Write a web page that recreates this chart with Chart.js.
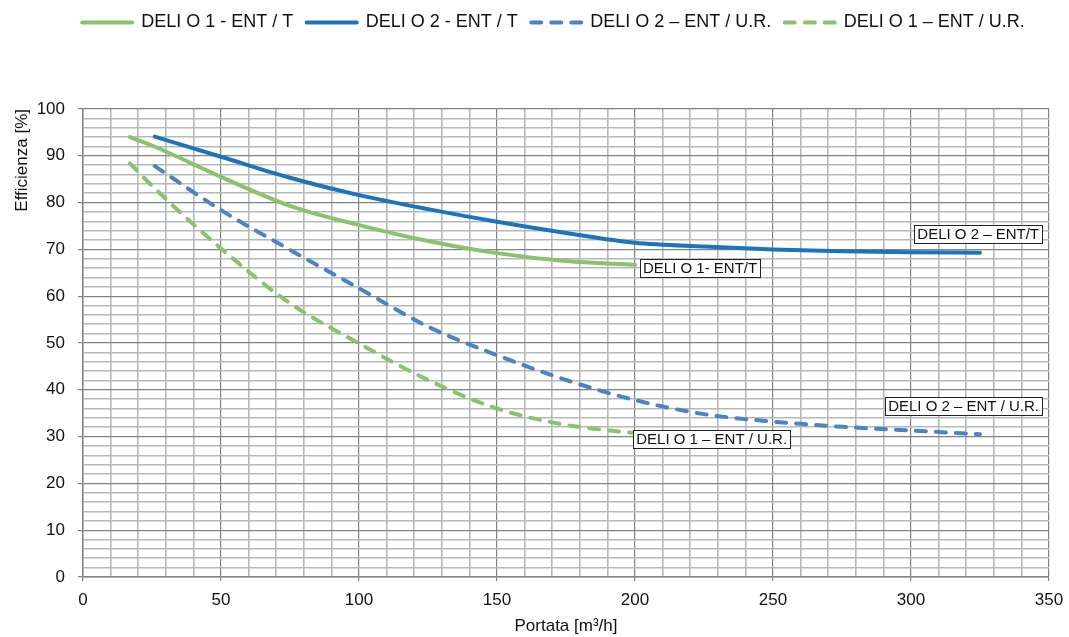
<!DOCTYPE html>
<html>
<head>
<meta charset="utf-8">
<script src="https://cdn.jsdelivr.net/npm/chart.js@4/dist/chart.umd.min.js"></script>
<style>
  html, body { margin: 0; padding: 0; background: #fff; }
  #wrap { width: 1069px; height: 637px; }
</style>
</head>
<body>
<div id="wrap"><canvas id="grafico"></canvas></div>
<script>
// portate [m3/h] e efficienze [%]
var portataD1 = [17, 25, 50, 75, 100, 125, 150, 175, 200];
var effD1T = [94.0, 92.2, 85.5, 79.3, 75.2, 71.8, 69.2, 67.5, 66.7];

var portataD2 = [26, 50, 75, 100, 125, 150, 175, 200, 225, 250, 275, 300, 325];
var effD2T = [94.1, 89.8, 85.3, 81.6, 78.6, 75.9, 73.5, 71.4, 70.6, 70.0, 69.6, 69.4, 69.3];
var effD2UR = [87.8, 78.4, 69.9, 61.7, 53.5, 47.4, 42.1, 37.8, 34.8, 33.2, 32.1, 31.3, 30.5];

var portataD1UR = [17, 25, 50, 75, 100, 125, 150, 175, 199];
var effD1UR = [88.4, 83.6, 70.2, 58.5, 49.9, 42.1, 36.0, 32.5, 30.8];

var legende = ["DELI O 1 - ENT / T", "DELI O 2 - ENT / T", "DELI O 2 \u2013 ENT / U.R.", "DELI O 1 \u2013 ENT / U.R."];
var etichette = ["DELI O 1- ENT/T", "DELI O 2 \u2013 ENT/T", "DELI O 2 \u2013 ENT / U.R.", "DELI O 1 \u2013 ENT / U.R."];

var xTicks = [0, 50, 100, 150, 200, 250, 300, 350];
var yTicks = [0, 10, 20, 30, 40, 50, 60, 70, 80, 90, 100];

var VERDE = "#8bc26b", BLU = "#1c75bc", BLU2 = "#4a84c4";
var GRID_MIN = "#b5b9b9", GRID_MAJ = "#7e8383";
var FONT = "'Liberation Sans', Arial, Helvetica, sans-serif";

function punti(xs, ys){
  return xs.map(function(x, i){ return {x: x, y: ys[i]}; });
}

function serie(label, xs, ys, colore, tratteggio){
  return {
    label: label,
    data: punti(xs, ys),
    borderColor: colore,
    backgroundColor: colore,
    borderWidth: 4,
    borderCapStyle: 'round',
    borderDash: tratteggio ? [10, 10] : [],
    pointRadius: 0,
    fill: false,
    cubicInterpolationMode: 'monotone'
  };
}

// riquadri con il nome vicino alla fine di ogni curva
var posEtichette = [
  {dx: 5, dy: 3, allinea: 'left'},
  {dx: 62, dy: -19, allinea: 'right'},
  {dx: 62, dy: -28, allinea: 'right'},
  {dx: 1, dy: 6, allinea: 'left'}
];

var pluginEtichette = {
  id: 'etichette',
  beforeInit: function(chart){
    var lg = chart.legend;
    var fit = lg.fit;
    lg.fit = function(){ fit.call(this); this.height = 109; };
  },
  afterLayout: function(chart){
    chart.legend.left += 29;
    chart.legend.right += 29;
  },
  afterDatasetsDraw: function(chart){
    var ctx = chart.ctx;
    ctx.save();
    ctx.font = "15px " + FONT;
    ctx.textBaseline = 'middle';
    chart.data.datasets.forEach(function(ds, i){
      var meta = chart.getDatasetMeta(i);
      var ultimo = meta.data[meta.data.length - 1];
      var p = posEtichette[i];
      var w = ctx.measureText(etichette[i]).width + 6;
      var h = 18;
      var x = p.allinea === 'left' ? ultimo.x + p.dx : ultimo.x + p.dx - w;
      var y = ultimo.y + p.dy;
      ctx.fillStyle = '#fff';
      ctx.fillRect(x, y - h / 2, w, h);
      ctx.strokeStyle = '#222';
      ctx.lineWidth = 1;
      ctx.strokeRect(Math.round(x) + 0.5, Math.round(y - h / 2) + 0.5, Math.round(w), h);
      ctx.fillStyle = '#111';
      ctx.textAlign = 'left';
      ctx.fillText(etichette[i], x + 3, y + 1);
    });
    ctx.restore();
  }
};

function coloreGriglia(passo){
  return function(c){ return (c.tick && c.tick.value % passo === 0) ? GRID_MAJ : GRID_MIN; };
}
function coloreTacca(passo){
  return function(c){ return (c.tick && c.tick.value % passo === 0) ? GRID_MAJ : 'rgba(0,0,0,0)'; };
}

var ctx = document.getElementById('grafico').getContext('2d');
var grafico = new Chart(ctx, {
  type: 'line',
  data: {
    datasets: [
      serie(legende[0], portataD1, effD1T, VERDE, false),
      serie(legende[1], portataD2, effD2T, BLU, false),
      serie(legende[2], portataD2, effD2UR, BLU2, true),
      serie(legende[3], portataD1UR, effD1UR, VERDE, true)
    ]
  },
  options: {
    responsive: true,
    maintainAspectRatio: false,
    animation: false,
    layout: { padding: { left: 0, right: 20, top: 0, bottom: 0 } },
    plugins: {
      tooltip: { enabled: false },
      legend: {
        position: 'top',
        labels: {
          usePointStyle: true,
          pointStyle: 'line',
          pointStyleWidth: 50,
          padding: 13.5,
          color: '#111',
          font: { size: 18, family: FONT },
          generateLabels: function(chart){
            return chart.data.datasets.map(function(ds, i){
              return {
                text: ds.label,
                datasetIndex: i,
                fillStyle: ds.borderColor,
                strokeStyle: ds.borderColor,
                lineWidth: ds.borderWidth,
                lineCap: 'round',
                lineDash: ds.borderDash,
                pointStyle: 'line',
                fontColor: '#111',
                hidden: false
              };
            });
          }
        }
      }
    },
    scales: {
      x: {
        type: 'linear',
        min: 0,
        max: 350,
        afterFit: function(s){ s.height = 60; s.paddingLeft = 0; s.paddingRight = 0; },
        ticks: {
          stepSize: 10,
          autoSkip: false,
          maxRotation: 0,
          padding: 9,
          color: '#111',
          font: { size: 17, family: FONT },
          callback: function(v){ return xTicks.indexOf(v) >= 0 ? v : ''; }
        },
        grid: {
          color: coloreGriglia(50),
          tickColor: coloreTacca(50),
          lineWidth: function(c){ return (c.tick && c.tick.value % 50 === 0) ? 1.2 : 1.6; },
          tickLength: 4,
          tickWidth: 1.2
        },
        border: { color: GRID_MAJ, width: 1.5 },
        title: {
          display: true,
          text: 'Portata [m\u00b3/h]',
          color: '#111',
          font: { size: 17, family: FONT },
          padding: { top: 0, bottom: 0 }
        }
      },
      y: {
        min: 0,
        max: 100,
        afterFit: function(s){ s.width = 83; },
        ticks: {
          stepSize: 2,
          autoSkip: false,
          padding: 13,
          color: '#111',
          font: { size: 17, family: FONT },
          callback: function(v){ return yTicks.indexOf(v) >= 0 ? v : ''; }
        },
        grid: {
          color: coloreGriglia(10),
          tickColor: coloreTacca(10),
          lineWidth: function(c){ return (c.tick && c.tick.value % 10 === 0) ? 1.2 : 1.6; },
          tickLength: 5,
          tickWidth: 1.2
        },
        border: { color: GRID_MAJ, width: 1.5 },
        title: {
          display: true,
          text: 'Efficienza [%]',
          align: 'end',
          color: '#111',
          font: { size: 17, family: FONT },
          padding: { top: 12, bottom: 0 }
        }
      }
    }
  },
  plugins: [pluginEtichette]
});
</script>
</body>
</html>
